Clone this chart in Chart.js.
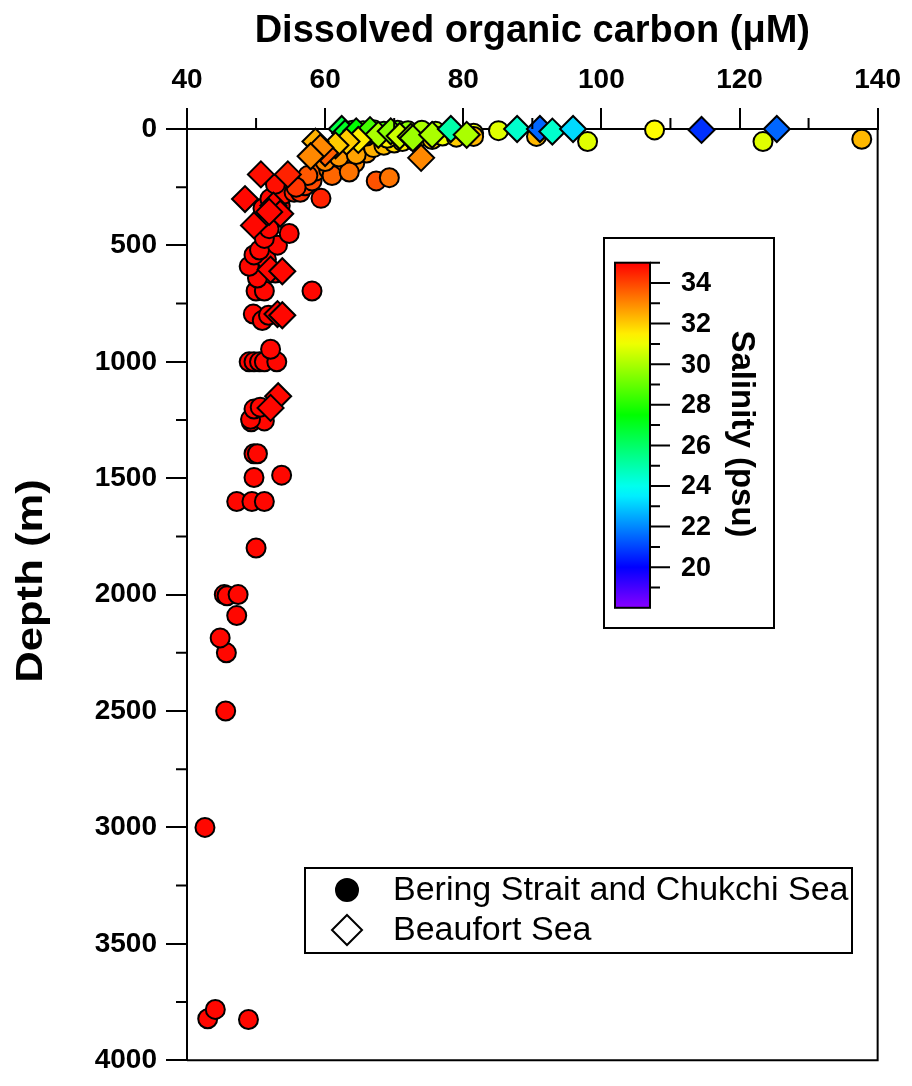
<!DOCTYPE html>
<html lang="en">
<head>
    <meta charset="UTF-8">
    <title>Dissolved organic carbon vs depth</title>
    <script src="https://cdn.jsdelivr.net/npm/chart.js@4.4.1/dist/chart.umd.min.js"></script>
    <style>
        body { margin: 0; background: #fff; }
        canvas { display: block; }
    </style>
</head>
<body>
    <canvas id="docChart" width="912" height="1086"></canvas>

    <script>
        // Bering Strait and Chukchi Sea (circles)
        const beringDoc = [
            43.0, 44.1, 48.9, 42.6, 45.6, 45.7, 44.8, 47.2, 45.4, 45.8, 47.4, 50.0,
            47.2, 49.4, 51.2, 49.7, 53.7, 49.7, 50.2, 49.3, 51.2, 49.2, 49.7, 50.6,
            49.0, 49.7, 50.5, 51.2, 53.0, 52.1, 49.6, 50.9, 51.8, 50.0, 51.2, 58.1,
            52.8, 50.2, 49.0, 51.5, 49.7, 50.5, 53.1, 51.2, 54.8, 51.9, 50.7, 51.0,
            53.5, 52.0, 54.0, 52.8, 55.5, 59.4,
            56.4, 57.1, 58.1, 58.6, 60.5, 62.4, 64.3, 66.0, 67.4, 69.3, 57.5, 61.0,
            63.5, 60.0, 62.0, 64.5, 67.0, 68.5, 70.0, 55.8,
            71.2, 81.5, 81.5, 85.1, 90.6, 98.0, 107.7, 123.4, 137.7,
            64.0, 65.5, 67.0, 68.5, 70.5, 72.0, 74.0, 76.0,
            66.0, 69.0, 73.0, 75.5, 64.5, 77.0, 79.0
        ];
        const beringDepth = [
            3822, 3782, 3825, 3000, 2500, 2250, 2186, 2090, 2000, 2005, 2000, 1800,
            1600, 1600, 1600, 1497, 1487, 1395, 1395, 1258, 1254, 1247, 1203, 1195,
            1000, 1000, 1000, 1000, 1000, 946, 795, 823, 800, 696, 696, 696,
            619, 640, 590, 560, 541, 520, 499, 470, 449, 428, 385, 340,
            330, 300, 280, 237, 272, 298,
            272, 244, 223, 181, 174, 160, 145, 103, 223, 209, 200, 200,
            185, 140, 120, 110, 80, 70, 60, 250,
            54, 18, 32, 7, 32, 54, 4, 54, 44,
            5, 8, 3, 10, 5, 8, 5, 10,
            30, 40, 50, 45, 40, 30, 35
        ];
        const beringSal = [
            34.9, 34.9, 34.9, 34.9, 34.9, 34.9, 34.9, 34.9, 34.9, 34.9, 34.9, 34.9,
            34.9, 34.9, 34.9, 34.9, 34.9, 34.9, 34.9, 34.9, 34.9, 34.9, 34.9, 34.9,
            34.9, 34.9, 34.9, 34.9, 34.9, 34.9, 34.9, 34.9, 34.9, 34.9, 34.9, 34.9,
            34.9, 34.9, 34.9, 34.9, 34.9, 34.9, 34.9, 34.9, 34.9, 34.9, 34.9, 34.9,
            34.9, 34.9, 34.7, 34.8, 34.4, 34.5,
            34.3, 34.1, 33.9, 33.5, 33.3, 33.1, 33.0, 32.8, 33.8, 33.3, 33.7, 33.5,
            33.3, 33.0, 32.8, 32.6, 32.4, 32.2, 31.8, 34.2,
            31.5, 31.0, 32.3, 30.8, 32.3, 30.8, 31.3, 30.8, 32.3,
            28.5, 28.8, 29.0, 28.5, 29.0, 29.5, 30.0, 30.2,
            31.5, 31.5, 31.8, 32.0, 32.0, 31.0, 32.0
        ];

        // Beaufort Sea (diamonds)
        const beaufortDoc = [
            62.4, 62.9, 64.5, 66.5, 67.7, 69.5, 70.8, 72.4, 72.7, 75.5, 78.2, 80.5,
            64.8, 63.1, 61.5, 58.6, 60.0, 59.3, 57.9, 73.9,
            87.8, 91.1, 92.9, 95.9, 114.5, 125.4,
            50.7, 54.6, 48.4, 52.5, 53.5, 51.9, 49.7, 52.1, 53.8, 53.1, 53.8, 53.2, 52.1
        ];
        const beaufortDepth = [
            0, 18, 10, 5, 25, 10, 30, 33, 40, 25, 0, 25,
            47, 54, 70, 54, 103, 80, 117, 124,
            0, 0, 11, 0, 4, 0,
            195, 195, 301, 329, 364, 356, 414, 604, 611, 795, 800, 1148, 1198
        ];
        const beaufortSal = [
            26.5, 27.0, 27.5, 28.5, 30.0, 29.5, 30.5, 30.0, 29.8, 30.0, 25.0, 30.0,
            31.5, 32.0, 32.0, 32.4, 33.6, 33.0, 33.0, 33.0,
            24.5, 21.5, 24.5, 23.2, 20.7, 21.5,
            34.8, 34.5, 34.9, 34.9, 34.9, 34.9, 34.9, 34.9, 34.9, 34.9, 34.9, 34.9, 34.9
        ];

        const xTicks = [40, 60, 80, 100, 120, 140];
        const xMinor = [50, 70, 90, 110, 130];
        const yTicks = [0, 500, 1000, 1500, 2000, 2500, 3000, 3500, 4000];
        const yMinor = [250, 750, 1250, 1750, 2250, 2750, 3250, 3750];
        const salTicks = [20, 22, 24, 26, 28, 30, 32, 34];
        const salMinor = [19, 21, 23, 25, 27, 29, 31, 33, 35];
        const salMin = 18, salMax = 35;

        const FONT = 'Arial, "Liberation Sans", Helvetica, sans-serif';

        // rainbow: red at 35 psu -> purple at 18 psu
        function salColor(s) {
            const h = Math.max(0, Math.min(272, 16 * (35 - s)));
            return 'hsl(' + h + ', 100%, 50%)';
        }

        function toPoints(xs, ys) {
            return xs.map((x, i) => ({ x: x, y: ys[i] }));
        }

        // frame, minor ticks, depth title, colour bar and legend box
        const decorPlugin = {
            id: 'decor',
            afterDraw(chart) {
                const ctx = chart.ctx;
                const area = chart.chartArea;
                const xs = chart.scales.x, ys = chart.scales.y;
                ctx.save();
                ctx.strokeStyle = '#000';
                ctx.lineWidth = 2;

                // right and bottom frame
                ctx.beginPath();
                ctx.moveTo(area.right, area.top);
                ctx.lineTo(area.right, area.bottom);
                ctx.lineTo(area.left, area.bottom);
                ctx.stroke();

                // minor ticks
                ctx.beginPath();
                xMinor.forEach(v => {
                    const px = xs.getPixelForValue(v);
                    ctx.moveTo(px, area.top);
                    ctx.lineTo(px, area.top - 11);
                });
                yMinor.forEach(v => {
                    const py = ys.getPixelForValue(v);
                    ctx.moveTo(area.left, py);
                    ctx.lineTo(area.left - 11, py);
                });
                ctx.stroke();

                // y axis title
                ctx.save();
                ctx.fillStyle = '#000';
                ctx.translate(32, 581);
                ctx.rotate(-Math.PI / 2);
                ctx.scale(1.18, 1);
                ctx.font = 'bold 37px ' + FONT;
                ctx.textAlign = 'center';
                ctx.textBaseline = 'middle';
                ctx.fillText('Depth (m)', 0, 0);
                ctx.restore();

                // colour bar
                const cb = { boxL: 604, boxT: 238, boxR: 774, boxB: 628, barL: 615, barR: 650 };
                const salY = s => 283 - (s - 34) * 20.3;
                ctx.fillStyle = '#fff';
                ctx.fillRect(cb.boxL, cb.boxT, cb.boxR - cb.boxL, cb.boxB - cb.boxT);
                ctx.strokeRect(cb.boxL, cb.boxT, cb.boxR - cb.boxL, cb.boxB - cb.boxT);
                const yTop = salY(salMax), yBot = salY(salMin);
                const grad = ctx.createLinearGradient(0, yBot, 0, yTop);
                for (let s = salMin; s <= salMax; s += 0.5) {
                    grad.addColorStop((s - salMin) / (salMax - salMin), salColor(s));
                }
                ctx.fillStyle = grad;
                ctx.fillRect(cb.barL, yTop, cb.barR - cb.barL, yBot - yTop);
                ctx.strokeRect(cb.barL, yTop, cb.barR - cb.barL, yBot - yTop);
                ctx.beginPath();
                salTicks.forEach(s => {
                    ctx.moveTo(cb.barR, salY(s));
                    ctx.lineTo(cb.barR + 20, salY(s));
                });
                salMinor.forEach(s => {
                    ctx.moveTo(cb.barR, salY(s));
                    ctx.lineTo(cb.barR + 10, salY(s));
                });
                ctx.stroke();
                ctx.fillStyle = '#000';
                ctx.font = 'bold 27px ' + FONT;
                ctx.textAlign = 'left';
                ctx.textBaseline = 'middle';
                salTicks.forEach(s => ctx.fillText(String(s), 681, salY(s) + 1));
                ctx.save();
                ctx.translate(741, 434);
                ctx.rotate(Math.PI / 2);
                ctx.font = 'bold 33px ' + FONT;
                ctx.textAlign = 'center';
                ctx.fillText('Salinity (psu)', 0, 0);
                ctx.restore();

                // legend
                const lg = { l: 305, t: 868, r: 852, b: 953 };
                ctx.fillStyle = '#fff';
                ctx.fillRect(lg.l, lg.t, lg.r - lg.l, lg.b - lg.t);
                ctx.strokeRect(lg.l, lg.t, lg.r - lg.l, lg.b - lg.t);
                ctx.fillStyle = '#000';
                ctx.beginPath();
                ctx.arc(347, 890, 11, 0, Math.PI * 2);
                ctx.fill();
                ctx.stroke();
                ctx.fillStyle = '#fff';
                ctx.beginPath();
                ctx.moveTo(347, 915);
                ctx.lineTo(362, 930);
                ctx.lineTo(347, 945);
                ctx.lineTo(332, 930);
                ctx.closePath();
                ctx.fill();
                ctx.stroke();
                ctx.fillStyle = '#000';
                ctx.font = '34px ' + FONT;
                ctx.textAlign = 'left';
                ctx.fillText('Bering Strait and Chukchi Sea', 393, 891);
                ctx.fillText('Beaufort Sea', 393, 931);
                ctx.restore();
            }
        };

        const tickFont = { family: FONT, size: 28, weight: 'bold' };
        const titleFont = { family: FONT, size: 38, weight: 'bold' };

        new Chart(document.getElementById('docChart'), {
            type: 'scatter',
            data: {
                datasets: [
                    {
                        label: 'Beaufort Sea',
                        data: toPoints(beaufortDoc, beaufortDepth),
                        pointStyle: 'rectRot',
                        pointRadius: 13,
                        pointBackgroundColor: beaufortSal.map(salColor),
                        pointBorderColor: '#000',
                        pointBorderWidth: 2,
                        clip: false
                    },
                    {
                        label: 'Bering Strait and Chukchi Sea',
                        data: toPoints(beringDoc, beringDepth),
                        pointStyle: 'circle',
                        pointRadius: 9.5,
                        pointBackgroundColor: beringSal.map(salColor),
                        pointBorderColor: '#000',
                        pointBorderWidth: 2,
                        clip: false
                    }
                ]
            },
            options: {
                responsive: false,
                animation: false,
                devicePixelRatio: 1,
                layout: { padding: { top: 0, left: 0, right: 27, bottom: 14 } },
                plugins: {
                    legend: { display: false },
                    tooltip: { enabled: false }
                },
                scales: {
                    x: {
                        type: 'linear',
                        position: 'top',
                        min: 40,
                        max: 140,
                        afterBuildTicks: s => { s.ticks = xTicks.map(v => ({ value: v })); },
                        afterFit: s => { s.height = 129; },
                        ticks: { color: '#000', font: tickFont, padding: 11, maxRotation: 0, autoSkip: false, callback: v => String(v) },
                        grid: { drawOnChartArea: false, drawTicks: true, tickLength: 21, color: '#000', lineWidth: 2 },
                        border: { display: true, color: '#000', width: 2 },
                        title: {
                            display: true,
                            text: 'Dissolved organic carbon (\u03bcM)',
                            color: '#000',
                            font: titleFont,
                            padding: { top: 9, bottom: 0 }
                        }
                    },
                    y: {
                        type: 'linear',
                        position: 'left',
                        reverse: true,
                        min: 0,
                        max: 4000,
                        afterBuildTicks: s => { s.ticks = yTicks.map(v => ({ value: v })); },
                        afterFit: s => { s.width = 187; },
                        ticks: { color: '#000', font: tickFont, padding: 9, autoSkip: false, callback: v => String(v) },
                        grid: { drawOnChartArea: false, drawTicks: true, tickLength: 21, color: '#000', lineWidth: 2 },
                        border: { display: true, color: '#000', width: 2 },
                        title: { display: false }
                    }
                }
            },
            plugins: [decorPlugin]
        });
    </script>
</body>
</html>
